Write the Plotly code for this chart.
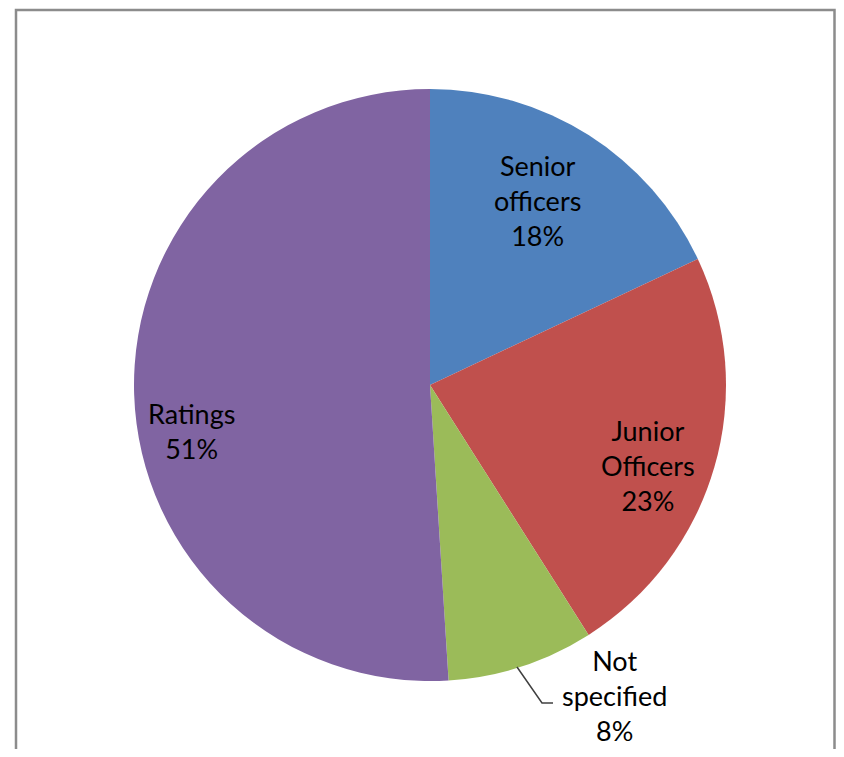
import plotly.graph_objects as go

# slices, clockwise from 12 o'clock
labels = ["Senior<br>officers", "Junior<br>Officers", "Not<br>specified", "Ratings"]
values = [18, 23, 8, 51]
colors = ["#4F81BD", "#C0504D", "#9BBB59", "#8064A2"]

# page body adds an 8px margin, so the figure is drawn smaller / shifted
OFF = 8
W, H = 844 - 2 * OFF, 757 - 2 * OFF
cx, cy, r = 430 - OFF, 385 - OFF, 296


def px(x):
    return (x - OFF) / W


def py(y):
    return 1 - (y - OFF) / H


# label block centres (page pixels), Excel "best fit" placement
label_pos = [(537, 200), (648, 466), (614, 695), (191, 431)]
FONT = dict(family="Lato", size=27, color="#000000")

fig = go.Figure()
fig.add_trace(go.Pie(
    labels=labels,
    values=values,
    textinfo="none",
    sort=False,
    direction="clockwise",
    rotation=0,
    marker=dict(colors=colors, line=dict(width=0)),
    hoverinfo="label+percent",
    domain=dict(x=[(cx - r) / W, (cx + r) / W],
                y=[1 - (cy + r) / H, 1 - (cy - r) / H]),
    showlegend=False,
))

for lab, v, (lx, ly) in zip(labels, values, label_pos):
    fig.add_annotation(xref="paper", yref="paper", x=px(lx), y=py(ly),
                       xanchor="center", yanchor="middle",
                       text=f"{lab}<br>{v}%", showarrow=False, align="center",
                       font=FONT)

# leader line for the small "Not specified" slice
fig.add_shape(type="path", xref="paper", yref="paper",
              path=f"M {px(517)} {py(667)} L {px(542)} {py(703)} L {px(553)} {py(703)}",
              line=dict(color="#404040", width=1.5))

# frame around the chart area
fig.add_shape(type="rect", xref="paper", yref="paper",
              x0=px(16), x1=px(834.5), y0=-0.05, y1=py(10),
              line=dict(color="#8C8C8C", width=2.5), fillcolor="rgba(0,0,0,0)")

fig.update_layout(
    width=W, height=H,
    margin=dict(l=0, r=0, t=0, b=0),
    paper_bgcolor="white",
    plot_bgcolor="white",
)

fig.write_html("out.html")
